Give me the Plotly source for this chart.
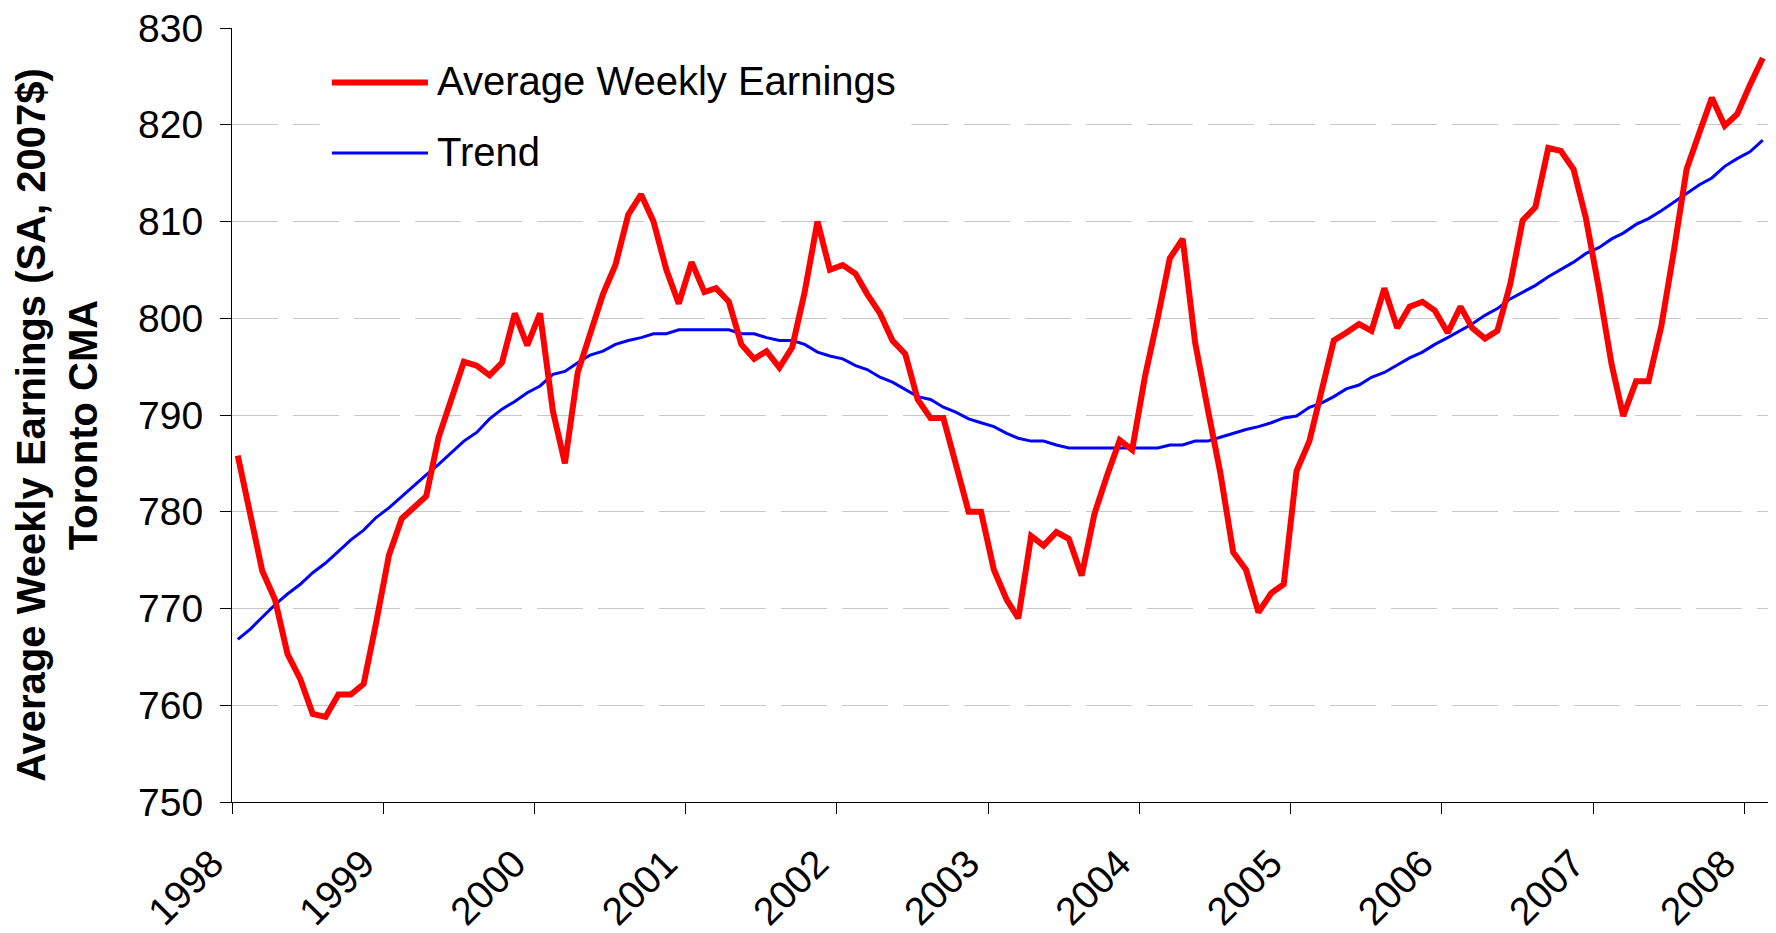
import pandas as pd
import plotly.graph_objects as go

# Monthly data, Jan 1998 - Feb 2008
months = pd.date_range("1998-01-01", periods=122, freq="MS") + pd.Timedelta(days=14)

earnings = [
    785.8, 779.7, 773.9, 770.9, 765.3, 762.7, 759.1, 758.8, 761.1, 761.1, 762.2, 768.5,
    775.5, 779.3, 780.4, 781.6, 787.7, 791.6, 795.5, 795.1, 794.1, 795.4, 800.5, 797.2,
    800.5, 790.4, 785.0, 794.4, 798.5, 802.5, 805.5, 810.7, 812.8, 810.0, 805.0, 801.5,
    805.8, 802.7, 803.1, 801.7, 797.3, 795.8, 796.6, 794.9, 797.0, 802.7, 810.0, 805.0,
    805.5, 804.6, 802.5, 800.5, 797.7, 796.3, 791.6, 789.7, 789.7, 784.7, 780.0, 780.0,
    774.0, 770.9, 769.0, 777.5, 776.5, 777.9, 777.2, 773.4, 779.8, 783.7, 787.4, 786.4,
    794.0, 800.1, 806.2, 808.2, 797.5, 790.5, 784.0, 775.8, 774.0, 769.6, 771.6, 772.5,
    784.2, 787.3, 792.1, 797.7, 798.5, 799.4, 798.7, 803.1, 799.0, 801.2, 801.7, 800.8,
    798.5, 801.2, 799.0, 797.9, 798.7, 803.5, 810.1, 811.5, 817.6, 817.3, 815.4, 810.3,
    803.1, 795.2, 789.9, 793.5, 793.5, 799.2, 806.9, 815.4, 819.2, 822.8, 819.9, 821.1,
    824.1, 826.9,
]

trend = [
    766.8, 767.9, 769.1, 770.4, 771.5, 772.5, 773.7, 774.7, 775.9, 777.1, 778.1, 779.4,
    780.4, 781.6, 782.6, 783.8, 784.9, 786.1, 787.3, 788.2, 789.6, 790.6, 791.4, 792.3,
    793.0, 794.2, 794.5, 795.4, 796.2, 796.6, 797.3, 797.7, 798.0, 798.4, 798.4, 798.8,
    798.8, 798.8, 798.8, 798.8, 798.4, 798.4, 798.0, 797.7, 797.7, 797.3, 796.5, 796.1,
    795.8, 795.1, 794.7, 793.9, 793.4, 792.6, 791.9, 791.6, 790.8, 790.3, 789.6, 789.2,
    788.8, 788.1, 787.6, 787.3, 787.3, 786.9, 786.6, 786.6, 786.6, 786.6, 786.6, 786.6,
    786.6, 786.6, 786.9, 786.9, 787.3, 787.3, 787.7, 788.1, 788.5, 788.8, 789.2, 789.7,
    789.9, 790.8, 791.2, 791.9, 792.7, 793.1, 793.9, 794.4, 795.2, 795.9, 796.5, 797.3,
    798.0, 798.7, 799.4, 800.3, 801.0, 802.0, 802.7, 803.4, 804.3, 805.0, 805.8, 806.7,
    807.3, 808.2, 808.8, 809.7, 810.3, 811.1, 812.0, 812.9, 813.8, 814.5, 815.7, 816.5,
    817.2, 818.4,
]

year_ticks = [f"{y}-01-01" for y in range(1998, 2009)]
year_labels = [str(y) for y in range(1998, 2009)]

FONT = "Liberation Sans, Arial, sans-serif"

fig = go.Figure()
fig.add_trace(go.Scatter(x=months, y=trend, mode="lines", name="Trend",
                         line=dict(color="#0000FF", width=3)))
fig.add_trace(go.Scatter(x=months, y=earnings, mode="lines", name="Average Weekly Earnings",
                         line=dict(color="#FF0000", width=6)))

fig.update_layout(
    width=1776, height=933,
    margin=dict(l=224, r=15, t=20, b=139, autoexpand=False),
    paper_bgcolor="white", plot_bgcolor="white",
    showlegend=False,
    font=dict(family=FONT, size=39, color="black"),
)

fig.update_xaxes(
    type="date", range=["1998-01-01", "2008-03-01"],
    tickvals=year_ticks, ticktext=year_labels, tickangle=-45,
    showline=True, linecolor="black", linewidth=1,
    ticks="outside", ticklen=11, tickcolor="black", tickwidth=1,
    ticklabelstandoff=11, ticklabelshift=-20, ticklabeloverflow="allow",
    automargin=False,
    showgrid=False, zeroline=False,
    tickfont=dict(family=FONT, size=39, color="black"),
)
fig.update_yaxes(
    range=[750, 830], dtick=10, tick0=750,
    showline=True, linecolor="black", linewidth=1,
    ticks="outside", ticklen=11, tickcolor="black", tickwidth=1,
    ticklabelstandoff=9, ticklabeloverflow="allow", automargin=False,
    showgrid=True, gridcolor="#c8c8c8", gridwidth=1, griddash="46px,15px",
    zeroline=False,
    tickfont=dict(family=FONT, size=39, color="black"),
)

# Custom legend (white box with long line samples)
fig.add_shape(type="rect", xref="paper", yref="paper",
              x0=0.057, x1=0.442, y0=0.824, y1=0.985,
              fillcolor="white", line=dict(width=0), layer="above")
fig.add_shape(type="line", xref="paper", yref="paper",
              x0=0.0650, x1=0.1275, y0=0.9297, y1=0.9297,
              line=dict(color="#FF0000", width=6), layer="above")
fig.add_shape(type="line", xref="paper", yref="paper",
              x0=0.0650, x1=0.1275, y0=0.8385, y1=0.8385,
              line=dict(color="#0000FF", width=3), layer="above")
fig.add_annotation(text="Average Weekly Earnings", xref="paper", yref="paper",
                   x=0.1320, y=0.9310, xanchor="left", yanchor="middle",
                   showarrow=False, font=dict(family=FONT, size=40, color="black"))
fig.add_annotation(text="Trend", xref="paper", yref="paper",
                   x=0.1320, y=0.8398, xanchor="left", yanchor="middle",
                   showarrow=False, font=dict(family=FONT, size=40, color="black"))

# Y axis title
fig.add_annotation(text="<b>Average Weekly Earnings (SA, 2007$)</b><br><b>Toronto CMA</b>",
                   xref="paper", yref="paper", x=-0.114, y=0.487,
                   xanchor="center", yanchor="middle", textangle=-90,
                   showarrow=False, align="center",
                   font=dict(family=FONT, size=40, color="black"))

fig.write_html("out.html")
